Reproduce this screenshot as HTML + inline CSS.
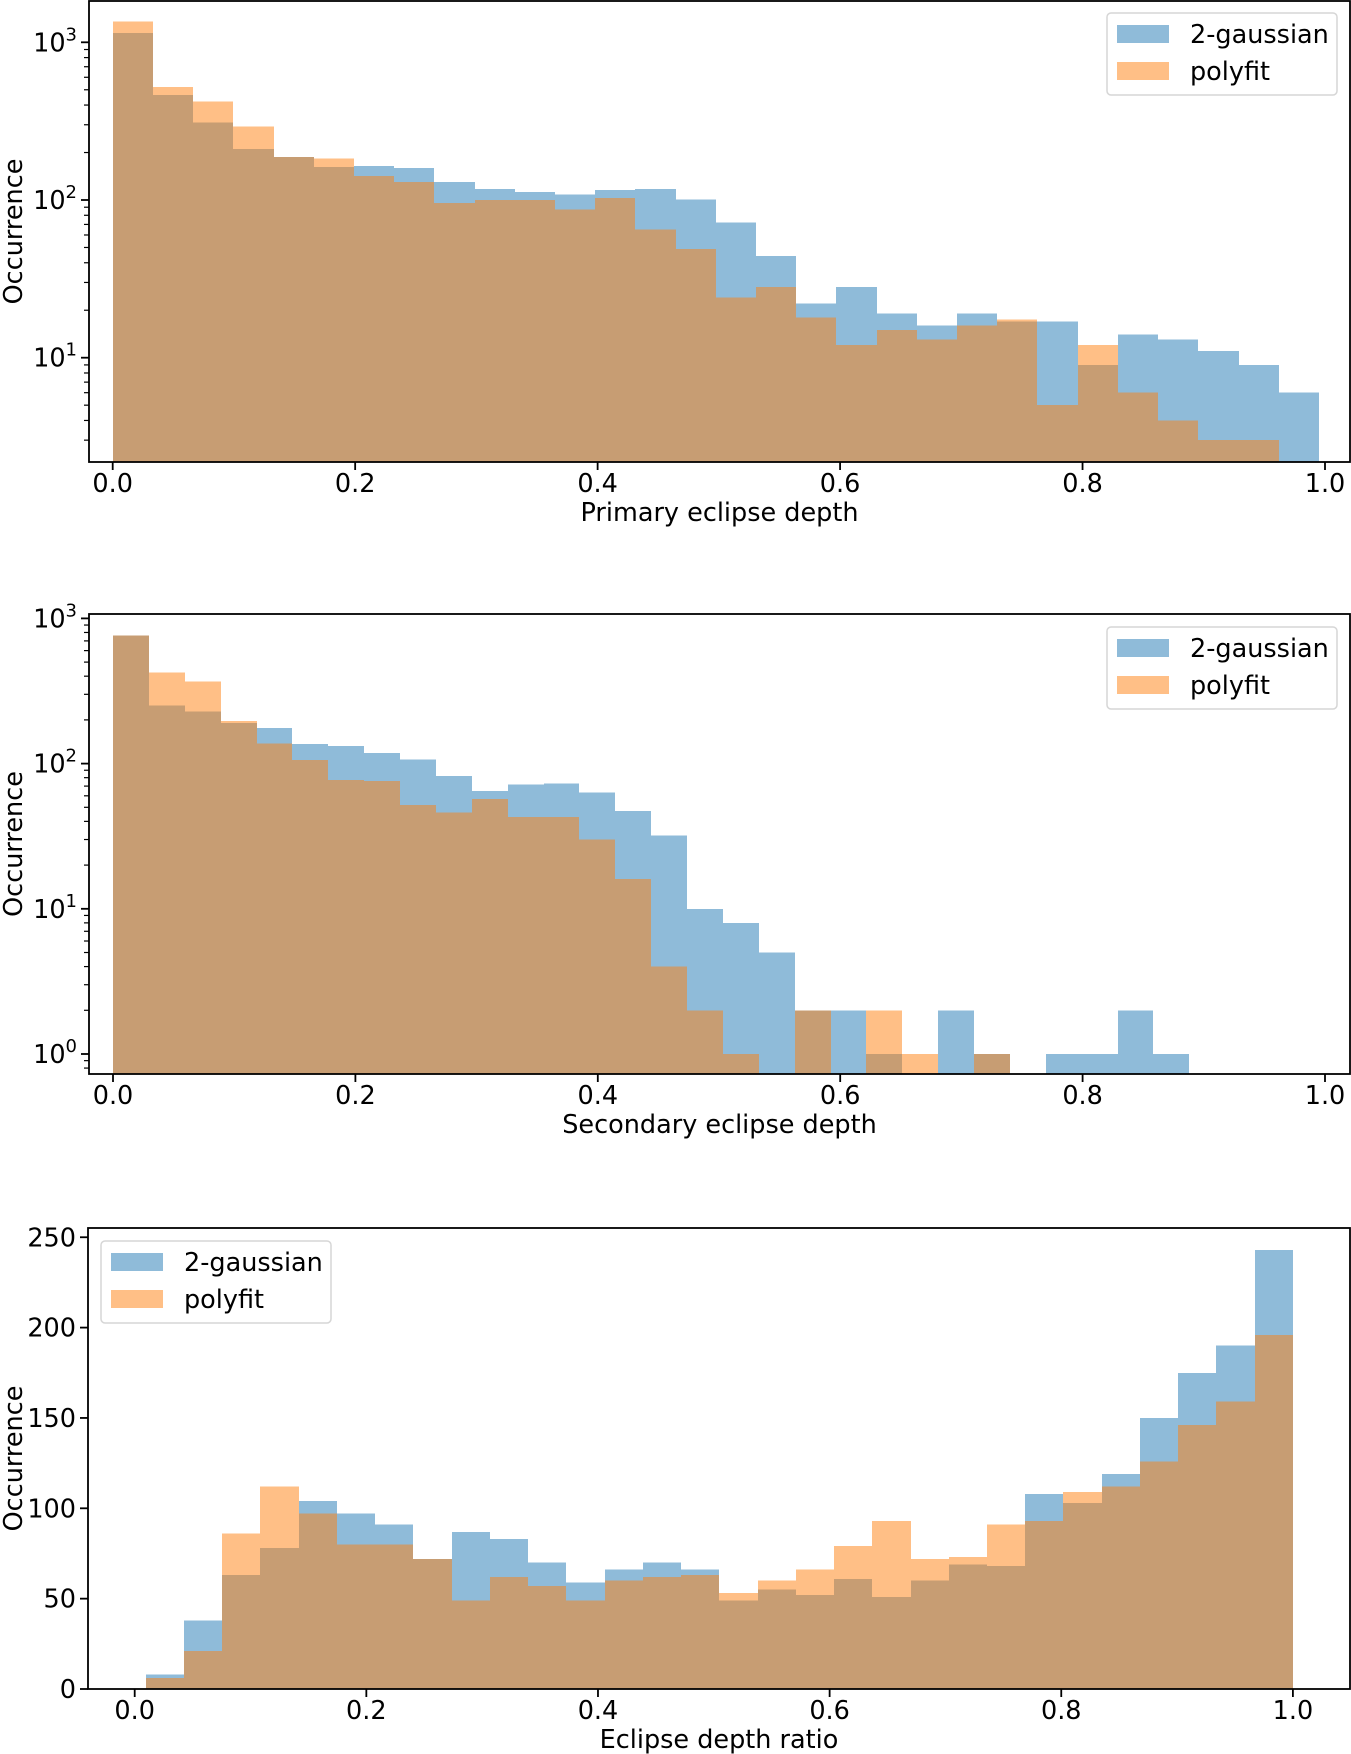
<!DOCTYPE html>
<html><head><meta charset="utf-8"><style>
html,body{margin:0;padding:0;background:#fff;}
svg{display:block;font-family:"DejaVu Sans","Liberation Sans",sans-serif;}
</style></head><body>
<svg id="fig" width="1351" height="1754" viewBox="0 0 1351 1754" xmlns="http://www.w3.org/2000/svg"></svg>
<script>
// ---- data (counts per bin, 30 bins each) ----
const p1Blue   = [1148,463,310,210,187,162,164,160,130,117,112,108,116,117,101,72,44,22,28,19,16,19,17,17,9,14,13,11,9,6];
const p1Orange = [1358,521,420,292,187,183,142,130,96,100,100,87,103,65,49,24,28,18,12,15,13,16,17.5,5,12,6,4,3,3,0];
const p2Blue   = [760,252,229,190,176,136,132,118,107,82,65,72,73,63,47,32,10,8,5,2,2,1,0,2,1,0,1,1,2,1];
const p2Orange = [760,425,369,196,138,106,77,76,52,46,57,43,43,30,16,4,2,1,0,2,0,2,1,0,1,0,0,0,0,0];
const p3Blue   = [8,38,63,78,104,97,91,72,87,83,70,59,66,70,66,49,55,52,61,51,60,69,68,108,103,119,150,175,190,243];
const p3Orange = [6,21,86,112,97,80,80,72,49,62,57,49,60,62,63,53,60,66,79,93,72,73,91,93,109,112,126,146,159,196];
const p1Range = [0.0, 0.995];
const p2Range = [0.0, 0.888];
const p3Range = [0.0095, 1.0];
const xTickValues = [0.0,0.2,0.4,0.6,0.8,1.0];
const xTickLabels = ["0.0","0.2","0.4","0.6","0.8","1.0"];
const p1LogTicks = [1,2,3];
const p2LogTicks = [0,1,2,3];
const p3TickValues = [0,50,100,150,200,250];
const p3TickLabels = ["0","50","100","150","200","250"];
const seriesNames = ["2-gaussian","polyfit"];

const FS=25.5;
const NS="http://www.w3.org/2000/svg";
const svg=document.getElementById('fig');
function mk(tag,attrs,parent){const e=document.createElementNS(NS,tag);for(const k in attrs)e.setAttribute(k,attrs[k]);(parent||svg).appendChild(e);return e;}

function drawPanel(o){
  const g=mk('g',{});
  
  
  const xs=v=>o.x0+(v)*o.xs;
  let ys;
  if(o.log){ ys=v=>o.y0-Math.log10(v)*o.dec; }
  else { ys=v=>o.y0-v*o.ys; }
  const clipId='clip-'+o.name;
  const cp=mk('clipPath',{id:clipId},g);
  mk('rect',{x:o.L,y:o.T,width:o.R-o.L,height:o.B-o.T},cp);
  const bars=mk('g',{'clip-path':'url(#'+clipId+')','shape-rendering':'crispEdges'},g);
  const w=(o.range[1]-o.range[0])/o.blue.length;
  [[o.blue,'#1f77b4','blue'],[o.orange,'#ff7f0e','orange']].forEach(([arr,col,nm])=>{
    arr.forEach((v,i)=>{
      if(v<=0)return;
      const xa=Math.round(xs(o.range[0]+i*w)), xb=Math.round(xs(o.range[0]+(i+1)*w));
      const yt=ys(v), yb=o.B+2;
      const r=mk('rect',{x:xa,y:yt,width:xb-xa,height:Math.max(0,yb-yt),fill:col,'fill-opacity':0.5},bars);
      
      
    });
  });
  const fr=mk('rect',{x:o.L,y:o.T,width:o.R-o.L,height:o.B-o.T,fill:'none',stroke:'#000','stroke-width':1.8},g);
  
  
  const xt=mk('g',{},g);
  
  
  xTickValues.forEach((v,i)=>{
    const x=xs(v);
    mk('line',{x1:x,x2:x,y1:o.B,y2:o.B+8,stroke:'#000','stroke-width':1.8},xt);
    const t=mk('text',{x:x,y:o.B+30,'font-size':FS,'text-anchor':'middle',fill:'#000'},xt);
    t.textContent=xTickLabels[i];
    
    
  });
  const xl=mk('text',{x:(o.L+o.R)/2,y:o.B+59,'font-size':FS,'text-anchor':'middle',fill:'#000'},g);
  xl.textContent=o.xlabel;
  
  
  const yt=mk('g',{},g);
  
  
  if(o.log){
    o.logTicks.forEach(p=>{
      const y=ys(Math.pow(10,p));
      mk('line',{x1:o.L-8,x2:o.L,y1:y,y2:y,stroke:'#000','stroke-width':1.8},yt);
      const t=mk('text',{x:o.L-12,y:y+9,'font-size':FS,'text-anchor':'end',fill:'#000'},yt);
      const a=mk('tspan',{},t);a.textContent='10';
      const b=mk('tspan',{'font-size':18,dy:-11},t);b.textContent=String(p);
      
      
    });
    for(let p=-1;p<=3;p++){for(let m=2;m<=9;m++){
      const y=ys(m*Math.pow(10,p));
      if(y<o.T||y>o.B)continue;
      mk('line',{x1:o.L-5,x2:o.L,y1:y,y2:y,stroke:'#000','stroke-width':1.2},yt);
    }}
  } else {
    o.ticks.forEach((v,i)=>{
      const y=ys(v);
      mk('line',{x1:o.L-8,x2:o.L,y1:y,y2:y,stroke:'#000','stroke-width':1.8},yt);
      const t=mk('text',{x:o.L-12,y:y+9,'font-size':FS,'text-anchor':'end',fill:'#000'},yt);
      t.textContent=o.tickLabels[i];
      
      
    });
  }
  const yl=mk('text',{x:22,y:(o.T+o.B)/2,'font-size':FS,'text-anchor':'middle',fill:'#000',transform:'rotate(-90 22 '+((o.T+o.B)/2)+')'},g);
  yl.textContent='Occurrence';
  
  
  const lg=mk('g',{},g);
  
  
  const lx=o.leg[0], ly=o.leg[1];
  mk('rect',{x:lx,y:ly,width:o.leg[2],height:82,rx:4,fill:'#fff','fill-opacity':0.8,stroke:'#d6d6d6','stroke-width':1.5},lg);
  [['#1f77b4',0],['#ff7f0e',1]].forEach(([c,i])=>{
    const e=mk('g',{},lg);
    
    
    mk('rect',{x:lx+10,y:ly+12+i*37,width:52,height:18,fill:c,'fill-opacity':0.5},e);
    const t=mk('text',{x:lx+83,y:ly+30+i*37,'font-size':FS,fill:'#000'},e);
    t.textContent=seriesNames[i];
  });
}

drawPanel({name:'primary-depth-panel',L:89,R:1350,T:1,B:462,x0:112.7,xs:1212.3,log:true,y0:357.7+157.7,dec:157.7,
  range:p1Range,blue:p1Blue,orange:p1Orange,logTicks:p1LogTicks,xlabel:'Primary eclipse depth',leg:[1107,13,230]});
drawPanel({name:'secondary-depth-panel',L:89,R:1350,T:614,B:1074,x0:113,xs:1212,log:true,y0:1054,dec:145.2,
  range:p2Range,blue:p2Blue,orange:p2Orange,logTicks:p2LogTicks,xlabel:'Secondary eclipse depth',leg:[1107,627,230]});
drawPanel({name:'depth-ratio-panel',L:88,R:1350,T:1228,B:1689,x0:134.7,xs:1158.2,log:false,y0:1689,ys:1.807,
  range:p3Range,blue:p3Blue,orange:p3Orange,ticks:p3TickValues,tickLabels:p3TickLabels,xlabel:'Eclipse depth ratio',leg:[101,1241,230]});
</script>
</body></html>
